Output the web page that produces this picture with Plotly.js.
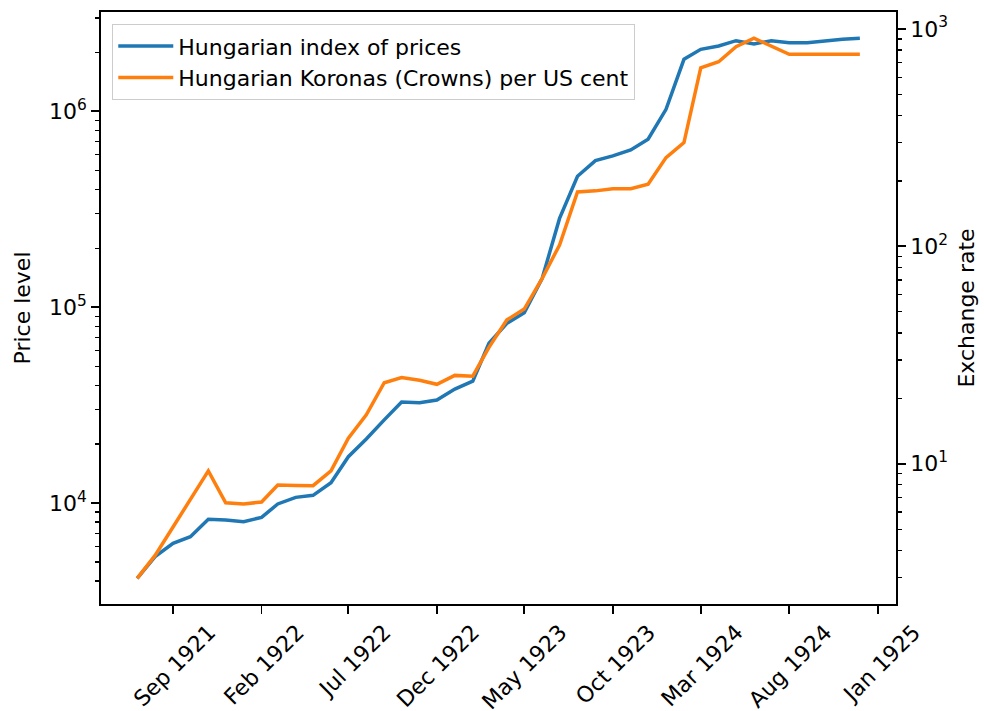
<!DOCTYPE html>
<html>
<head>
<meta charset="utf-8">
<script src="https://cdn.plot.ly/plotly-3.0.1.min.js"></script>
<style>html,body{margin:0;padding:0;background:#fff;}#chart{width:984px;height:711px;}</style>
</head>
<body>
<div id="chart"></div>
<script>
const months = ['1921-07-01','1921-08-01','1921-09-01','1921-10-01','1921-11-01','1921-12-01',
  '1922-01-01','1922-02-01','1922-03-01','1922-04-01','1922-05-01','1922-06-01',
  '1922-07-01','1922-08-01','1922-09-01','1922-10-01','1922-11-01','1922-12-01',
  '1923-01-01','1923-02-01','1923-03-01','1923-04-01','1923-05-01','1923-06-01',
  '1923-07-01','1923-08-01','1923-09-01','1923-10-01','1923-11-01','1923-12-01',
  '1924-01-01','1924-02-01','1924-03-01','1924-04-01','1924-05-01','1924-06-01',
  '1924-07-01','1924-08-01','1924-09-01','1924-10-01','1924-11-01','1924-12-01'];

const priceIndex = [4130, 5330, 6240, 6740, 8270, 8200, 8040, 8460, 9900, 10700, 10960, 12700,
  17250, 21250, 26600, 32800, 32500, 33600, 38200, 41900, 65500, 82800, 93800, 140500,
  284000, 466000, 560000, 592000, 635000, 720000, 1024000, 1843000, 2073000, 2155000, 2294000, 2207000,
  2294000, 2240000, 2240000, 2294000, 2332000, 2359000];

const exchangeRate = [2.97, 3.79, 5.12, 6.89, 9.27, 6.62, 6.53, 6.67, 7.99, 7.95, 7.93, 9.27,
  13.1, 16.8, 23.6, 24.9, 24.2, 23.2, 25.5, 25.3, 34.3, 45.9, 51.5, 71.3,
  101.5, 178, 180, 184, 184, 193, 256, 300, 663, 707, 829, 906,
  835, 765, 765, 765, 765, 765];

const xTickVals = ['1921-09-01','1922-02-01','1922-07-01','1922-12-01','1923-05-01','1923-10-01','1924-03-01','1924-08-01','1925-01-01'];
const xTickText = ['Sep 1921','Feb 1922','Jul 1922','Dec 1922','May 1923','Oct 1923','Mar 1924','Aug 1924','Jan 1925'];

const leftTickVals = [1e4, 1e5, 1e6];
const leftTickText = ['10<sup>4</sup>','10<sup>5</sup>','10<sup>6</sup>'];
const rightTickVals = [1e1, 1e2, 1e3];
const rightTickText = ['10<sup>1</sup>','10<sup>2</sup>','10<sup>3</sup>'];

const seriesNames = ['Hungarian index of prices', 'Hungarian Koronas (Crowns) per US cent'];

function minorLog(lo, hi) {
  const v = [];
  for (let e = lo; e <= hi; e++) for (let m = 2; m <= 9; m++) v.push(m * Math.pow(10, e));
  return v;
}

const traces = [
  {x: months, y: priceIndex, name: seriesNames[0], type: 'scatter', mode: 'lines',
   line: {color: '#1f77b4', width: 3.5}, yaxis: 'y'},
  {x: months, y: exchangeRate, name: seriesNames[1], type: 'scatter', mode: 'lines',
   line: {color: '#ff7f0e', width: 3.5}, yaxis: 'y2'}
];

const FS = 22;
const tickFont = {family: 'DejaVu Sans', size: FS, color: '#000'};

const layout = {
  width: 984, height: 711,
  margin: {l: 101, r: 88, t: 12, b: 107, pad: 0},
  paper_bgcolor: '#fff', plot_bgcolor: '#fff',
  font: {family: 'DejaVu Sans', size: FS, color: '#000'},
  showlegend: true,
  legend: {x: 0.0138, y: 0.98, xanchor: 'left', yanchor: 'top',
    bgcolor: 'rgba(255,255,255,0.8)', bordercolor: '#cccccc', borderwidth: 1.3,
    itemwidth: 55,
    font: {family: 'DejaVu Sans', size: FS, color: '#000'}},
  xaxis: {type: 'date', range: ['1921-04-29 12:00', '1925-02-01 11:00'],
    tickmode: 'array', tickvals: xTickVals, ticktext: xTickText, tickangle: -45,
    ticklabelshift: 36, ticklabelstandoff: -3,
    ticks: 'outside', ticklen: 8, tickwidth: 1.8, tickcolor: '#000',
    showgrid: false, zeroline: false, showline: true, linecolor: '#000', linewidth: 1.8, mirror: true,
    tickfont: tickFont},
  yaxis: {type: 'log', range: [3.485, 6.507],
    tickmode: 'array', tickvals: leftTickVals, ticktext: leftTickText,
    ticks: 'outside', ticklen: 8, tickwidth: 1.8, tickcolor: '#000',
    minor: {tickmode: 'array', tickvals: minorLog(3, 6), ticks: 'outside', ticklen: 4.5, tickwidth: 1.3, tickcolor: '#000', showgrid: false},
    showgrid: false, zeroline: false, showline: true, linecolor: '#000', linewidth: 1.8,
    tickfont: tickFont,
    title: {text: 'Price level', font: {family: 'DejaVu Sans', size: FS, color: '#000'}, standoff: 12}},
  yaxis2: {type: 'log', range: [0.355, 3.078], overlaying: 'y', side: 'right',
    tickmode: 'array', tickvals: rightTickVals, ticktext: rightTickText,
    ticks: 'outside', ticklen: 8, tickwidth: 1.8, tickcolor: '#000',
    minor: {tickmode: 'array', tickvals: minorLog(0, 3), ticks: 'outside', ticklen: 4.5, tickwidth: 1.3, tickcolor: '#000', showgrid: false},
    showgrid: false, zeroline: false, showline: true, linecolor: '#000', linewidth: 1.8,
    tickfont: tickFont,
    title: {text: 'Exchange rate', font: {family: 'DejaVu Sans', size: FS, color: '#000'}, standoff: 12}}
};

Plotly.newPlot('chart', traces, layout, {displayModeBar: false, staticPlot: true});
</script>
</body>
</html>
